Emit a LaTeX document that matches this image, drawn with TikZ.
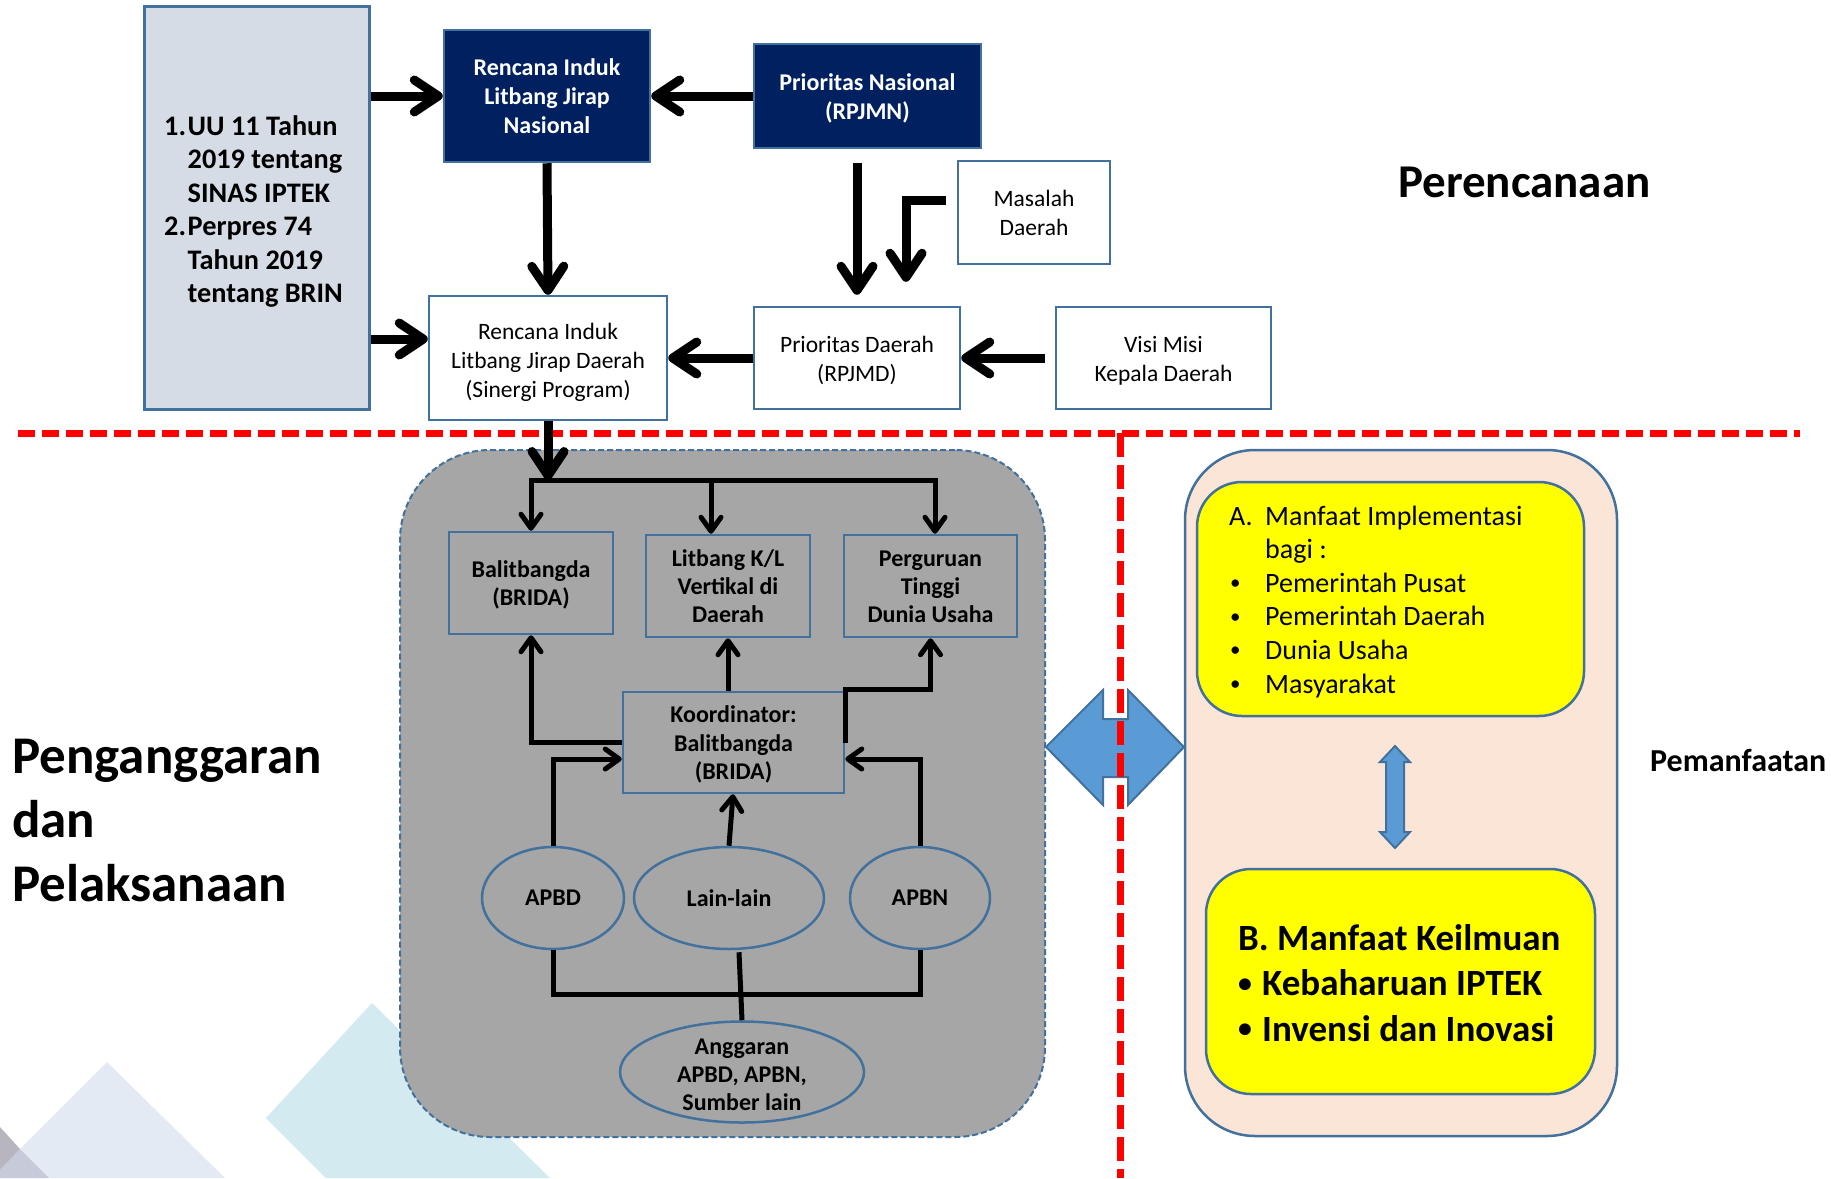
\documentclass[tikz,border=0pt]{standalone}
\usepackage{fontspec}
\setmainfont{Carlito}
\usetikzlibrary{arrows.meta,shapes.geometric,calc}
\definecolor{navy}{HTML}{002060}
\definecolor{bord}{HTML}{41719C}
\definecolor{lawfill}{HTML}{D6DCE5}
\definecolor{cgray}{HTML}{A6A6A6}
\definecolor{peach}{HTML}{FBE5D6}
\definecolor{yel}{HTML}{FFFF00}
\definecolor{barrow}{HTML}{5B9BD5}
\definecolor{tricyan}{HTML}{D2EAF0}
\definecolor{trilav}{HTML}{E4EAF4}
\definecolor{trigray}{HTML}{B6B5C0}
\definecolor{trimid}{HTML}{C7CBD9}
\newcommand{\btx}[2][3pt]{\raisebox{-#1}[\height][\depth]{\begin{tabular}{@{}c@{}}#2\end{tabular}}}
\newcommand{\smbul}{\raisebox{0.09em}{\scalebox{0.75}{\textbullet}}}
\begin{document}
\begin{tikzpicture}[x=1pt,y=-1pt,
  box/.style={draw=bord, line width=2.5pt, inner sep=0pt, align=center},
  navybox/.style={box, fill=navy, text=white, font=\fontsize{24}{29}\selectfont\bfseries},
  whitebox/.style={box, fill=white, font=\fontsize{23.5}{29}\selectfont},
  innerbox/.style={box, font=\fontsize{24}{28.3}\selectfont\bfseries},
  oval/.style={ellipse, draw=bord, line width=2.5pt, inner sep=0pt},
  ovaltext/.style={inner sep=0pt, align=center, font=\fontsize{24}{28}\selectfont\bfseries},
  freetext/.style={inner sep=0pt, anchor=base west},
  bigarr/.style={line width=9pt, -{Straight Barb[length=24pt,width=32pt,round]}},
  smallarr/.style={line width=5pt, -{Straight Barb[length=14pt,width=20pt,round]}},
  plainln/.style={line width=5pt},
  reddash/.style={draw=red, line width=7pt},
  blockarr/.style={fill=barrow, draw=bord, line width=2pt, line join=miter},
]
\useasboundingbox (0,0) rectangle (1831,1178);
\fill[white] (0,0) rectangle (1831,1178);
% background decoration
\fill[trilav] (107,1062) -- (225,1178) -- (0,1178) -- (0,1169) -- cycle;
\fill[tricyan] (372,1003) -- (550,1178) -- (326,1178) -- (266,1118) -- cycle;
\fill[trigray] (0,1127) -- (20,1149) -- (0,1170) -- cycle;
\fill[trimid] (0,1170) -- (20,1149) -- (49,1178) -- (0,1178) -- cycle;

% containers
\node[draw=bord, fill=cgray, line width=2pt, dash pattern=on 6pt off 3pt, rounded corners=90pt,
      minimum width=645pt, minimum height=687pt, inner sep=0pt] (cont) at (722.5,793.5) {};
\node[draw=bord, fill=peach, line width=2.5pt, rounded corners=70pt,
      minimum width=432pt, minimum height=686pt, inner sep=0pt] (pcont) at (1401,793) {};
\node[draw=bord, fill=yel, line width=2.5pt, rounded corners=45pt,
      minimum width=387pt, minimum height=234pt, inner sep=0pt] (ya) at (1390.5,599) {};
\node[draw=bord, fill=yel, line width=2.5pt, rounded corners=45pt,
      minimum width=389pt, minimum height=225pt, inner sep=0pt] (yb) at (1400.5,981.5) {};

% block arrows
\draw[blockarr] (1046,747) -- (1103,690) -- (1103,719) -- (1128,719) -- (1128,690) -- (1184,747)
  -- (1128,805) -- (1128,777) -- (1103,777) -- (1103,805) -- cycle;
\draw[blockarr] (1395,746) -- (1410,762) -- (1404,762) -- (1404,832) -- (1410,832) -- (1395,848)
  -- (1380,832) -- (1386,832) -- (1386,762) -- (1380,762) -- cycle;

% red dashed separators
\draw[reddash, dash pattern=on 17pt off 7pt] (18,433) -- (1800,433);
\draw[reddash, dash pattern=on 24pt off 8pt] (1120,433) -- (1120,1178);

% planning nodes
\node[box, fill=lawfill, line width=3pt, minimum width=225pt, minimum height=403pt] (law) at (256.5,207.5) {};
\node[freetext, font=\fontsize{28.3}{33.5}\selectfont\bfseries] (lawtxt) at (164,135)
  {\begin{tabular}[t]{@{}l@{}}\makebox[23.5pt][l]{1.}UU 11 Tahun\\ \hspace*{23.5pt}2019 tentang\\ \hspace*{23.5pt}SINAS IPTEK\\
   \makebox[23.5pt][l]{2.}Perpres 74\\ \hspace*{23.5pt}Tahun 2019\\ \hspace*{23.5pt}tentang BRIN\end{tabular}};
\node[navybox, minimum width=206pt, minimum height=132pt] (rn) at (547,96) {\btx{Rencana Induk\\Litbang Jirap\\Nasional}};
\node[navybox, minimum width=227pt, minimum height=104pt] (pn) at (867.5,96) {\btx{Prioritas Nasional\\(RPJMN)}};
\node[whitebox, minimum width=152pt, minimum height=103pt] (mas) at (1034,212.5) {\btx{Masalah\\Daerah}};
\node[whitebox, minimum width=238pt, minimum height=124pt] (rd) at (548,358) {\btx[4.5pt]{Rencana Induk\\Litbang Jirap Daerah\\(Sinergi Program)}};
\node[whitebox, minimum width=206pt, minimum height=102pt] (pd) at (857,358) {\btx{Prioritas Daerah\\(RPJMD)}};
\node[whitebox, minimum width=215pt, minimum height=102pt] (vm) at (1163.5,358) {\btx{Visi Misi\\Kepala Daerah}};

% implementation nodes
\node[innerbox, minimum width=164pt, minimum height=102pt] (bal) at (531,583) {\btx{Balitbangda\\(BRIDA)}};
\node[innerbox, minimum width=164pt, minimum height=102pt] (lit) at (728,586) {\btx{Litbang K/L\\Vertikal di\\Daerah}};
\node[innerbox, minimum width=173pt, minimum height=102pt] (pt) at (930.5,586) {\btx{Perguruan\\Tinggi\\Dunia Usaha}};
\node[innerbox, minimum width=221pt, minimum height=101pt] (ko) at (733.5,742.5) {\btx{Koordinator:\\Balitbangda\\(BRIDA)}};
\node[oval, minimum width=142pt, minimum height=102pt] (apbd) at (553,898) {};
\node[ovaltext] at (apbd.center) {APBD};
\node[oval, minimum width=190pt, minimum height=102pt] (lain) at (729,898) {};
\node[ovaltext] at (lain.center) {Lain-lain};
\node[oval, minimum width=140pt, minimum height=102pt] (apbn) at (920,898) {};
\node[ovaltext] at (apbn.center) {APBN};
\node[oval, minimum width=244pt, minimum height=101pt] (ang) at (742,1072) {};
\node[ovaltext] (angtxt) at (742,1075) {Anggaran\\APBD, APBN,\\Sumber lain};

% planning connectors
\draw[bigarr] (law.east |- rn.west) -- (rn.west);
\coordinate (rdin) at ($(rd.west)+(0,-19)$);
\draw[bigarr] (law.east |- rdin) -- (rdin);
\draw[bigarr] (pn.west) -- (rn.east);
\draw[bigarr] (rn.south) -- (rd.north);
\coordinate (pnout) at ($(pn.south)+(0,14)$);
\coordinate (pdin) at ($(pd.north)+(0,-11)$);
\draw[bigarr] (pnout -| pdin) -- (pdin);
\coordinate (masout) at ($(mas.west)+(-11,-12.5)$);
\coordinate (pdin2) at ($(pd.north)+(49,-24)$);
\draw[bigarr] (masout) -| (pdin2);
\draw[bigarr, shorten <=10pt] (vm.west) -- (pd.east);
\draw[bigarr] (pd.west) -- (rd.east);

% distribution bus
\coordinate (bus) at (0,480);
\coordinate (litin) at ($(lit.north)+(-17,0)$);
\coordinate (ptin) at ($(pt.north)+(4.5,0)$);
\draw[smallarr] (rd.south |- bus) -| (bal.north);
\draw[smallarr] (rd.south |- bus) -| (ptin);
\draw[smallarr] (litin |- bus) -- (litin);
\draw[bigarr] (rd.south) -- (rd.south |- bus);

% coordinator connectors
\draw[smallarr] (ko.west) -| (bal.south);
\draw[smallarr] (lit.south |- ko.north) -- (lit.south);
\draw[smallarr] (ko.east) -- ++(0,-53) -| (pt.south);
\coordinate (kowin) at ($(ko.west)+(0,16.5)$);
\coordinate (koein) at ($(ko.east)+(0,16.5)$);
\coordinate (kosin) at ($(ko.south)+(-0.5,0)$);
\draw[smallarr] (apbd.north) |- (kowin);
\draw[smallarr] (apbn.north) |- (koein);
\draw[smallarr] (lain.north) -- (kosin);
\draw[plainln] (apbd.south) -- ++(0,44) -| (apbn.south);
\coordinate (lainout) at ($(lain.south)+(10,2)$);
\draw[plainln] (lainout) -- (ang.north);

% benefit texts
\node[freetext, font=\fontsize{28}{33.6}\selectfont] (atxt) at (1229,525)
  {\begin{tabular}[t]{@{}l@{}}\makebox[36pt][l]{A.}Manfaat Implementasi\\ \hspace*{36pt}bagi :\\
   \makebox[36pt][l]{\hspace{1pt}\smbul}Pemerintah Pusat\\ \makebox[36pt][l]{\hspace{1pt}\smbul}Pemerintah Daerah\\
   \makebox[36pt][l]{\hspace{1pt}\smbul}Dunia Usaha\\ \makebox[36pt][l]{\hspace{1pt}\smbul}Masyarakat\end{tabular}};
\node[freetext, font=\fontsize{37}{45.5}\selectfont\bfseries] (btxt) at (1238,950)
  {\begin{tabular}[t]{@{}l@{}}B. Manfaat Keilmuan\\ \makebox[24pt][l]{\smbul}Kebaharuan IPTEK\\
   \makebox[24pt][l]{\smbul}Invensi dan Inovasi\end{tabular}};

% section titles
\node[freetext, font=\fontsize{47}{56}\selectfont\bfseries] (per) at (1398,197) {Perencanaan};
\node[freetext, font=\fontsize{32}{38}\selectfont\bfseries] (pem) at (1650,771) {Pemanfaatan};
\node[freetext, font=\fontsize{53}{64}\selectfont\bfseries] (peng) at (12,773)
  {\begin{tabular}[t]{@{}l@{}}Penganggaran\\dan\\Pelaksanaan\end{tabular}};
\end{tikzpicture}
\end{document}
